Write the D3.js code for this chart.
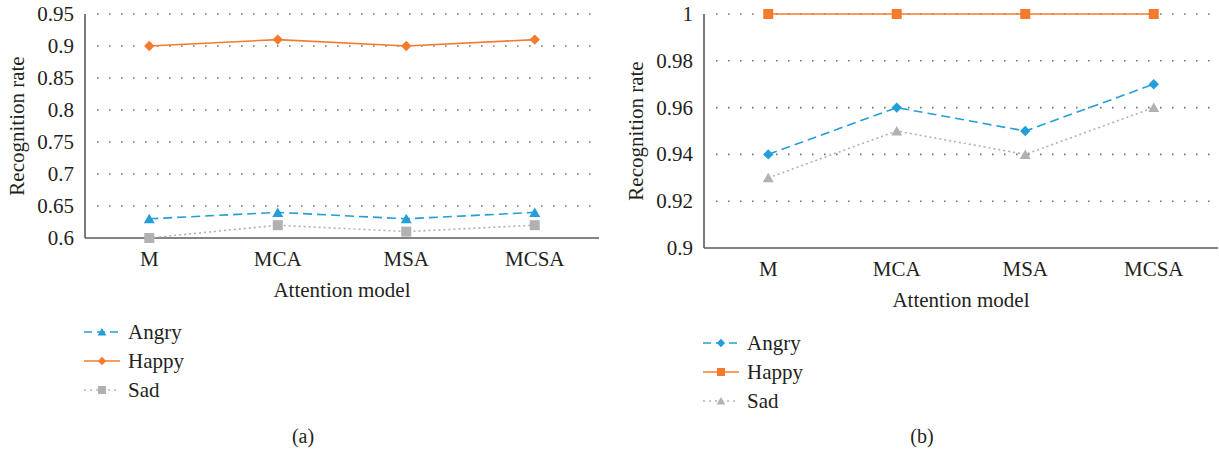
<!DOCTYPE html>
<html>
<head>
<meta charset="utf-8">
<script src="https://cdn.jsdelivr.net/npm/d3@7"></script>
<style>
  body { margin: 0; background: #fff; }
</style>
</head>
<body>
<svg id="chart" width="1219" height="456"></svg>
<script>
const models = ["M", "MCA", "MSA", "MCSA"];

// panel (a)
const angryA = [0.63, 0.64, 0.63, 0.64];
const happyA = [0.90, 0.91, 0.90, 0.91];
const sadA = [0.60, 0.62, 0.61, 0.62];
const ticksA = [0.6, 0.65, 0.7, 0.75, 0.8, 0.85, 0.9, 0.95];

// panel (b)
const angryB = [0.94, 0.96, 0.95, 0.97];
const happyB = [1, 1, 1, 1];
const sadB = [0.93, 0.95, 0.94, 0.96];
const ticksB = [0.9, 0.92, 0.94, 0.96, 0.98, 1];

const blue = "#239ed8", orange = "#f47b2e", gray = "#b1b1b4";
const FONT = "'Liberation Serif', 'Times New Roman', Times, serif";
const svg = d3.select("#chart")
  .attr("font-family", FONT);

const markerPath = {
  triangle: "M0,-5L5.5,4.5L-5.5,4.5Z",
  diamond: "M0,-5.2L5.2,0L0,5.2L-5.2,0Z",
  square: "M-5,-5H5V5H-5Z"
};

function drawPanel(o) {
  const g = svg.append("g");
  const x = d3.scalePoint().domain(models).range([o.left, o.right]).padding(0.5);
  const y = d3.scaleLinear().domain(o.domain).range([o.bottom, o.top]);

  // dotted gridlines
  o.ticks.filter(t => t !== o.domain[0]).forEach(t => {
    g.append("line")
      .attr("x1", o.left + 12).attr("x2", o.gridEnd)
      .attr("y1", y(t)).attr("y2", y(t))
      .attr("stroke", "#777").attr("stroke-width", 1.6)
      .attr("stroke-dasharray", "1.6,10.4");
  });

  // axes lines
  g.append("line").attr("x1", o.left).attr("x2", o.left)
    .attr("y1", o.top).attr("y2", o.bottom)
    .attr("stroke", "#5a5a5a").attr("stroke-width", 1.6);
  g.append("line").attr("x1", o.left).attr("x2", o.right)
    .attr("y1", o.bottom).attr("y2", o.bottom)
    .attr("stroke", "#5a5a5a").attr("stroke-width", 1.6);

  // y tick labels
  g.selectAll(".yt").data(o.ticks).join("text")
    .attr("x", o.left - 11).attr("y", d => y(d) + 7)
    .attr("text-anchor", "end").attr("font-family", FONT).attr("font-size", 21).attr("fill", "#231f20")
    .text(d => d3.format("")(d));

  // x tick labels
  g.selectAll(".xt").data(models).join("text")
    .attr("x", d => x(d)).attr("y", o.bottom + 28)
    .attr("text-anchor", "middle").attr("font-family", FONT).attr("font-size", 21).attr("fill", "#231f20")
    .text(d => d);

  g.append("text")
    .attr("x", (o.left + o.right) / 2).attr("y", o.bottom + 59)
    .attr("text-anchor", "middle").attr("font-family", FONT).attr("font-size", 21).attr("fill", "#231f20")
    .text("Attention model");

  g.append("text")
    .attr("transform", `translate(${o.left - 61},${(o.top + o.bottom) / 2}) rotate(-90)`)
    .attr("text-anchor", "middle").attr("font-family", FONT).attr("font-size", 21).attr("fill", "#231f20")
    .text("Recognition rate");

  const line = d3.line().x((d, i) => x(models[i])).y(d => y(d));

  o.series.forEach(s => {
    g.append("path").datum(s.values)
      .attr("d", line).attr("fill", "none")
      .attr("stroke", s.color).attr("stroke-width", 1.6)
      .attr("stroke-dasharray", s.dash);
    g.selectAll(null).data(s.values).join("path")
      .attr("transform", (d, i) => `translate(${x(models[i])},${y(d)})`)
      .attr("d", markerPath[s.marker])
      .attr("fill", s.color);
  });

  // legend
  o.series.forEach((s, i) => {
    const ly = o.legendY + i * 29;
    g.append("line").attr("x1", o.legendX).attr("x2", o.legendX + 36)
      .attr("y1", ly).attr("y2", ly)
      .attr("stroke", s.color).attr("stroke-width", 1.6)
      .attr("stroke-dasharray", s.legendDash);
    g.append("path").attr("transform", `translate(${o.legendX + 18},${ly}) scale(0.8)`)
      .attr("d", markerPath[s.marker]).attr("fill", s.color);
    g.append("text").attr("x", o.legendX + 44).attr("y", ly + 7)
      .attr("font-family", FONT).attr("font-size", 21).attr("fill", "#231f20")
      .text(s.name);
  });

  g.append("text")
    .attr("x", o.labelX).attr("y", 443)
    .attr("text-anchor", "middle").attr("font-family", FONT).attr("font-size", 20).attr("fill", "#231f20")
    .text(o.label);
}

drawPanel({
  left: 85, right: 599, top: 14, bottom: 238, gridEnd: 592,
  domain: [0.6, 0.95], ticks: ticksA,
  legendX: 84, legendY: 332, labelX: 303, label: "(a)",
  series: [
    { name: "Angry", values: angryA, color: blue, dash: "9,5", legendDash: "8,5", marker: "triangle" },
    { name: "Happy", values: happyA, color: orange, dash: null, legendDash: null, marker: "diamond" },
    { name: "Sad", values: sadA, color: gray, dash: "2,3", legendDash: "2,4", marker: "square" }
  ]
});

drawPanel({
  left: 704, right: 1218, top: 14, bottom: 248, gridEnd: 1211,
  domain: [0.9, 1], ticks: ticksB,
  legendX: 703, legendY: 343, labelX: 922, label: "(b)",
  series: [
    { name: "Angry", values: angryB, color: blue, dash: "9,5", legendDash: "8,5", marker: "diamond" },
    { name: "Happy", values: happyB, color: orange, dash: null, legendDash: null, marker: "square" },
    { name: "Sad", values: sadB, color: gray, dash: "2,3", legendDash: "2,4", marker: "triangle" }
  ]
});
</script>
</body>
</html>
